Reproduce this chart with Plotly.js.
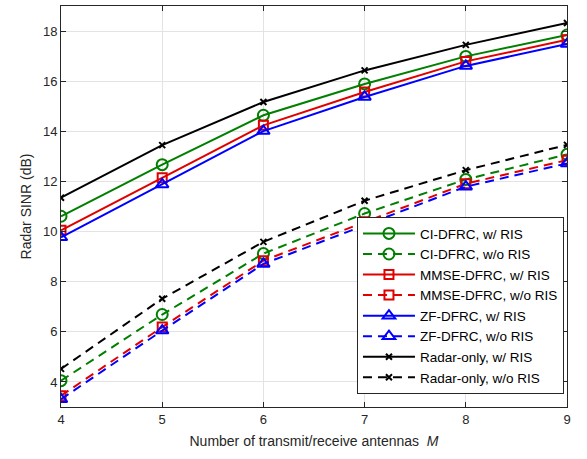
<!DOCTYPE html>
<html>
<head>
<meta charset="utf-8">
<script src="https://cdn.plot.ly/plotly-3.0.1.min.js"></script>
<style>html,body{margin:0;padding:0;background:#fff;}#chart{width:587px;height:459px;}</style>
</head>
<body>
<div id="chart"></div>
<script>
const M = [4, 5, 6, 7, 8, 9];
const ciWith      = [10.61, 12.67, 14.64, 15.89, 16.99, 17.84];
const ciWithout   = [4.05, 6.69, 9.12, 10.72, 12.08, 13.08];
const mmseWith    = [10.05, 12.15, 14.24, 15.57, 16.79, 17.65];
const mmseWithout = [3.45, 6.19, 8.84, 10.39, 11.91, 12.85];
const zfWith      = [9.77, 11.88, 14.01, 15.37, 16.61, 17.48];
const zfWithout   = [3.31, 6.05, 8.71, 10.24, 11.79, 12.72];
const radarWith   = [11.35, 13.45, 15.17, 16.43, 17.45, 18.32];
const radarWithout= [4.52, 7.32, 9.59, 11.23, 12.45, 13.46];
const names = ['CI-DFRC, w/ RIS','CI-DFRC, w/o RIS','MMSE-DFRC, w/ RIS','MMSE-DFRC, w/o RIS',
               'ZF-DFRC, w/ RIS','ZF-DFRC, w/o RIS','Radar-only, w/ RIS','Radar-only, w/o RIS'];
const xTicks = [4, 5, 6, 7, 8, 9];
const yTicks = [4, 6, 8, 10, 12, 14, 16, 18];

const green = '#007f00', red = '#e00000', blue = '#0000ff', black = '#000000';
const dashPat = '9px,6px';
function tr(y, name, color, dash, symbol, size) {
  return {
    x: M, y: y, name: name, type: 'scatter', mode: 'lines+markers',
    line: {color: color, width: 2, dash: dash},
    marker: {symbol: symbol, size: size, color: color, line: {color: color, width: 2}}
  };
}
const data = [
  tr(ciWith, names[0], green, 'solid', 'circle-open', 11),
  tr(ciWithout, names[1], green, dashPat, 'circle-open', 11),
  tr(mmseWith, names[2], red, 'solid', 'square-open', 9),
  tr(mmseWithout, names[3], red, dashPat, 'square-open', 9),
  tr(zfWith, names[4], blue, 'solid', 'triangle-up-open', 11),
  tr(zfWithout, names[5], blue, dashPat, 'triangle-up-open', 11),
  tr(radarWith, names[6], black, 'solid', 'x-thin-open', 6),
  tr(radarWithout, names[7], black, dashPat, 'x-thin-open', 6)
];
const font = {family: 'Liberation Sans, Arial, sans-serif', color: '#262626'};
const axisCommon = {
  showline: true, linecolor: '#262626', linewidth: 1, mirror: 'ticks',
  ticks: 'inside', ticklen: 5, tickcolor: '#262626',
  showgrid: true, gridcolor: '#e3e3e3', gridwidth: 1, zeroline: false,
  tickfont: {family: font.family, size: 13, color: '#262626'}
};
const layout = {
  width: 587, height: 459,
  margin: {l: 61, r: 20, t: 6, b: 52},
  paper_bgcolor: '#ffffff', plot_bgcolor: '#ffffff',
  font: font,
  showlegend: true,
  xaxis: Object.assign({}, axisCommon, {
    range: [4, 9], tickmode: 'array', tickvals: xTicks, ticktext: xTicks.map(String),
    title: {text: 'Number of transmit/receive antennas  <i>M</i>', font: {family: font.family, size: 14, color: '#262626'}, standoff: 10}
  }),
  yaxis: Object.assign({}, axisCommon, {
    range: [3, 19], tickmode: 'array', tickvals: yTicks, ticktext: yTicks.map(String),
    title: {text: 'Radar SINR (dB)', font: {family: font.family, size: 14, color: '#262626'}, standoff: 8}
  }),
  legend: {
    x: 0.994, xanchor: 'right', y: 0.032, yanchor: 'bottom',
    bgcolor: '#ffffff', bordercolor: '#262626', borderwidth: 1,
    font: {family: font.family, size: 13.5, color: '#000000'},
    tracegroupgap: 0, itemwidth: 52
  }
};
Plotly.newPlot('chart', data, layout, {displayModeBar: false, staticPlot: true});
</script>
</body>
</html>
